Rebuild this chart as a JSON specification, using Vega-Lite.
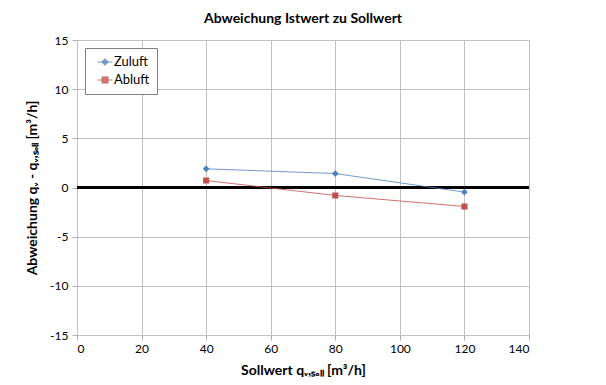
{
  "$schema": "https://vega.github.io/schema/vega-lite/v6.json",
  "autosize": "none",
  "width": 452,
  "height": 295,
  "padding": {"left": 77, "top": 40, "right": 77, "bottom": 50},
  "background": "white",
  "title": {"text": "Abweichung Istwert zu Sollwert", "font": "Lato", "fontSize": 14, "fontWeight": "bold", "color": "#000000", "offset": 8, "anchor": "middle"},
  "config": {
    "font": "Lato",
    "view": {"stroke": "#b0b0b0", "strokeWidth": 1}
  },
  "data": {"values": [
    {"x": 40, "y": 1.9, "serie": "Zuluft"},
    {"x": 80, "y": 1.42, "serie": "Zuluft"},
    {"x": 120, "y": -0.47, "serie": "Zuluft"},
    {"x": 40, "y": 0.71, "serie": "Abluft"},
    {"x": 80, "y": -0.81, "serie": "Abluft"},
    {"x": 120, "y": -1.93, "serie": "Abluft"}
  ]},
  "encoding": {
    "x": {"field": "x", "type": "quantitative", "scale": {"domain": [0, 140], "nice": false},
      "axis": {"values": [0,20,40,60,80,100,120,140], "labelExpr": "'' + datum.value", "title": "Sollwert qᵥ,ₛₒₗₗ [m³/h]", "titleFont": "Lato", "titleFontSize": 14, "titleFontWeight": "bold", "titleColor": "#000", "titlePadding": 9,
        "labelFontSize": 12, "labelColor": "#000", "labelFont": "Lato", "grid": true, "gridColor": "#c0c0c0", "domain": false, "tickColor": "#b0b0b0", "tickSize": 5, "labelPadding": 3}},
    "y": {"field": "y", "type": "quantitative", "scale": {"domain": [-15, 15], "nice": false},
      "axis": {"values": [-15,-10,-5,0,5,10,15], "labelExpr": "'' + datum.value", "title": "Abweichung qᵥ - qᵥ,ₛₒₗₗ [m³/h]", "titleFont": "Lato", "titleFontSize": 14, "titleFontWeight": "bold", "titleColor": "#000", "titlePadding": 10,
        "labelFontSize": 12, "labelColor": "#000", "labelFont": "Lato", "grid": true, "gridColor": "#c0c0c0", "domain": false, "tickColor": "#b0b0b0", "tickSize": 5, "labelPadding": 4}}
  },
  "layer": [
    {"mark": {"type": "rule", "color": "#000", "strokeWidth": 2}, "encoding": {"x": {"datum": 0}, "x2": {"datum": 140}, "y": {"datum": 0}}},
    {"mark": {"type": "line", "strokeWidth": 1, "opacity": 0.8},
      "encoding": {"color": {"field": "serie", "type": "nominal", "scale": {"domain": ["Zuluft", "Abluft"], "range": ["#4F81BD", "#C0504D"]}}}},
    {"mark": {"type": "point", "filled": true, "opacity": 1, "size": 150},
      "encoding": {
        "color": {"field": "serie", "type": "nominal", "scale": {"domain": ["Zuluft", "Abluft"], "range": ["#4F81BD", "#C0504D"]},
          "legend": {"title": null, "orient": "top-left", "offset": 8, "padding": 7, "strokeColor": "#808080", "fillColor": "white",
            "labelFontSize": 13, "labelColor": "#000", "labelFont": "Lato", "symbolSize": 150, "rowPadding": 4, "labelOffset": 2, "symbolOffset": 6,
            "symbolStrokeWidth": 1,
            "encode": {"symbols": {"update": {"stroke": {"scale": "color", "field": "value"}, "strokeWidth": {"value": 1}, "opacity": {"value": 1}}},
                       "legend": {"update": {"width": {"value": 68}}}}}},
        "shape": {"field": "serie", "type": "nominal", "scale": {"domain": ["Zuluft", "Abluft"], "range": ["M-1.2,0H1.2M0,-0.55L0.55,0L0,0.55L-0.55,0Z", "M-1.2,0H1.2M-0.5,-0.5H0.5V0.5H-0.5Z"]}}
      }}
  ]
}
